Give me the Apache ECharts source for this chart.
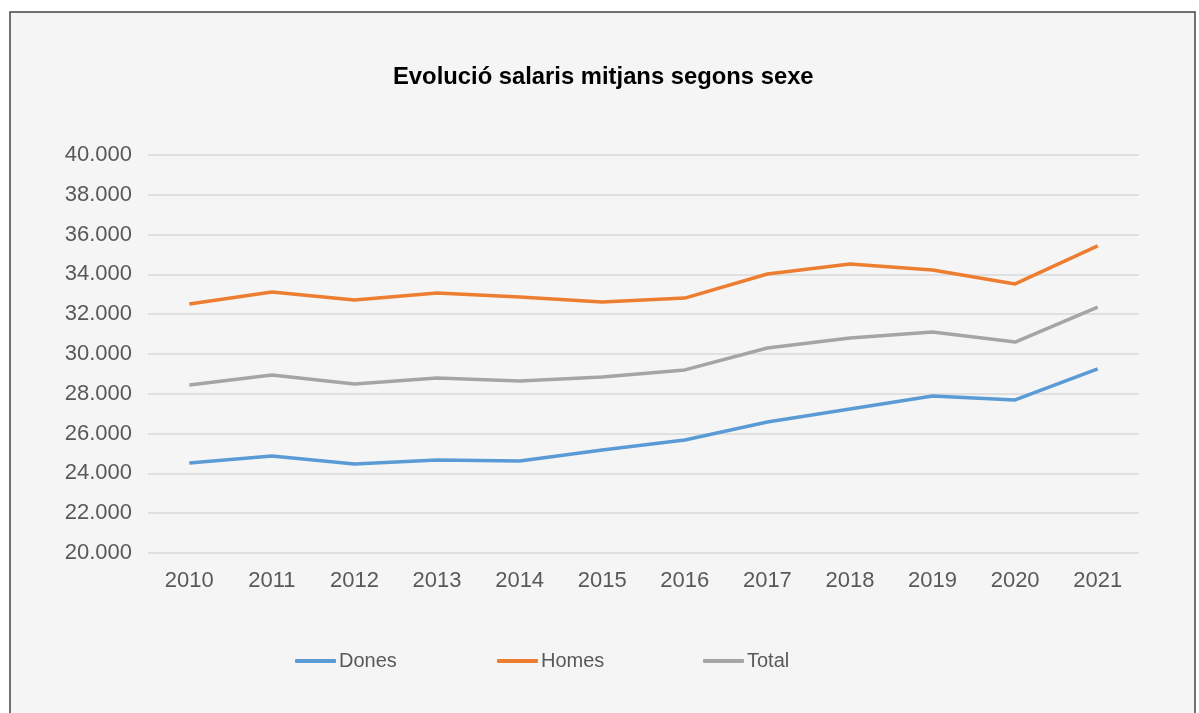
<!DOCTYPE html>
<html>
<head>
<meta charset="utf-8">
<script src="https://cdn.jsdelivr.net/npm/echarts@6/dist/echarts.min.js"></script>
<style>
html, body { margin: 0; padding: 0; background: #fff; }
#main-chart { width: 1199px; height: 713px; }
</style>
</head>
<body>
<div id="main-chart"></div>
<script>
var years = ['2010', '2011', '2012', '2013', '2014', '2015', '2016', '2017', '2018', '2019', '2020', '2021'];
var dones = [24520, 24870, 24470, 24670, 24620, 25180, 25680, 26580, 27240, 27890, 27690, 29250];
var homes = [32510, 33120, 32710, 33070, 32860, 32610, 32810, 34020, 34520, 34220, 33520, 35430];
var total = [28440, 28950, 28490, 28790, 28640, 28840, 29200, 30300, 30800, 31110, 30600, 32360];

var fontFam = '"Liberation Sans", Arial, sans-serif';
var labelColor = '#595959';

function fmt(v) {
    return String(v).replace(/\B(?=(\d{3})+(?!\d))/g, '.');
}

function legendFor(name, left) {
    return {
        data: [name],
        left: left,
        top: 651,
        icon: 'roundRect',
        itemWidth: 41,
        itemHeight: 4,
        itemGap: 0,
        padding: 0,
        textStyle: { color: labelColor, fontSize: 20, fontFamily: fontFam, padding: [0, 0, 0, -2] }
    };
}

var myChart = echarts.init(document.getElementById('main-chart'));
var option = {
    backgroundColor: '#ffffff',
    animation: false,
    graphic: [{
        type: 'rect',
        shape: { x: 10, y: 12, width: 1185, height: 720 },
        style: { fill: '#f5f5f5', stroke: '#444', lineWidth: 1.5 },
        z: -10
    }],
    title: {
        text: 'Evolució salaris mitjans segons sexe',
        left: 393,
        top: 65,
        padding: 0,
        textStyle: { color: '#000', fontSize: 23.8, fontWeight: 'bold', fontFamily: fontFam }
    },
    legend: [legendFor('Dones', 295), legendFor('Homes', 497), legendFor('Total', 703)],
    grid: { left: 148, right: 60, top: 155, bottom: 160, containLabel: false },
    xAxis: {
        type: 'category',
        data: years,
        boundaryGap: true,
        axisLine: { show: false },
        axisTick: { show: false },
        axisLabel: { color: labelColor, fontSize: 22, fontFamily: fontFam, margin: 17 }
    },
    yAxis: {
        type: 'value',
        min: 20000,
        max: 40000,
        interval: 2000,
        axisLine: { show: false },
        axisTick: { show: false },
        axisLabel: { color: labelColor, fontSize: 22, fontFamily: fontFam, margin: 16, formatter: fmt },
        splitLine: { lineStyle: { color: '#d9d9d9', width: 1.5 } }
    },
    series: [
        { name: 'Dones', type: 'line', data: dones, symbol: 'none', lineStyle: { color: '#5b9bd5', width: 3.5 }, itemStyle: { color: '#5b9bd5' } },
        { name: 'Homes', type: 'line', data: homes, symbol: 'none', lineStyle: { color: '#ed7d31', width: 3.5 }, itemStyle: { color: '#ed7d31' } },
        { name: 'Total', type: 'line', data: total, symbol: 'none', lineStyle: { color: '#a5a5a5', width: 3.5 }, itemStyle: { color: '#a5a5a5' } }
    ]
};
myChart.setOption(option);
</script>
</body>
</html>
